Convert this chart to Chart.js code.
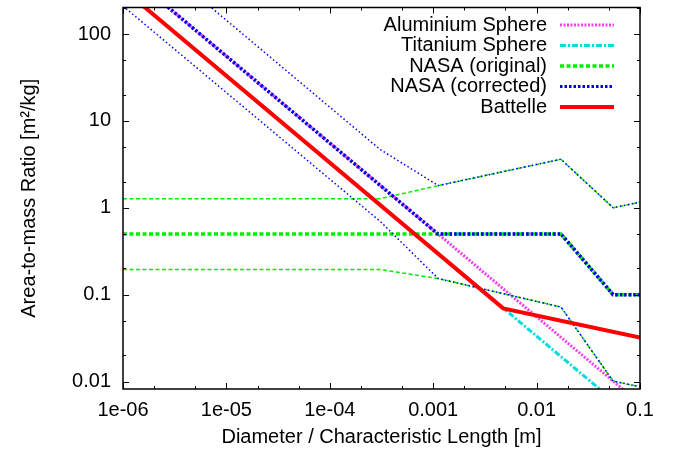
<!DOCTYPE html>
<html>
<head>
<meta charset="utf-8">
<script src="https://cdn.jsdelivr.net/npm/chart.js@4/dist/chart.umd.min.js"></script>
<style>
  body { margin: 0; background: #fff; }
  canvas { display: block; }
</style>
</head>
<body>
<canvas id="chart" width="675" height="454"></canvas>
<script>
// diameter [m] and area-to-mass ratio [m^2/kg]
const sphereD = [1e-6, 0.1];
const aluminiumAM = [556, 0.00556];
const titaniumAM = [333, 0.00333];

const nasaD = [1e-6, 3.06e-4, 0.00112, 0.0172, 0.055, 0.1];
const nasaOrigUpper = [1.27, 1.27, 1.8, 3.62, 1.0, 1.16];
const nasaOrigMean = [0.5, 0.5, 0.5, 0.5, 0.1, 0.1];
const nasaOrigLower = [0.195, 0.195, 0.153, 0.072, 0.0101, 0.0087];

const nasaCorrUpper = [1440, 4.7, 1.8, 3.62, 1.0, 1.16];
const nasaCorrLower = [210, 0.70, 0.153, 0.072, 0.0101, 0.0087];
const nasaCorrMeanD = [1e-6, 0.00111, 0.0172, 0.055, 0.1];
const nasaCorrMean = [556, 0.5, 0.5, 0.1, 0.1];

const battelleD = [1e-6, 0.00475, 0.1];
const battelleAM = [330, 0.0695, 0.032];

const xTicks = [1e-6, 1e-5, 1e-4, 1e-3, 1e-2, 1e-1];
const xTickLabels = ["1e-06", "1e-05", "1e-04", "0.001", "0.01", "0.1"];
const yTicks = [0.01, 0.1, 1, 10, 100];
const yTickLabels = ["0.01", "0.1", "1", "10", "100"];

const legendLabels = ["Aluminium Sphere", "Titanium Sphere", "NASA (original)", "NASA (corrected)", "Battelle"];

const FONT = { family: "'Liberation Sans', Arial, sans-serif", size: 20 };

const MAGENTA = "#ee44ee", CYAN = "#00dddd", GREEN = "#00ee00", BLUE = "#0000ee", RED = "#ff0000";

function pts(xs, ys) {
  return xs.map((x, i) => ({ x: x, y: ys[i] }));
}

function line(data, color, width, dash, order) {
  return {
    data: data,
    borderColor: color,
    borderWidth: width,
    borderDash: dash,
    pointRadius: 0,
    tension: 0,
    fill: false,
    clip: 0,
    order: order
  };
}

const datasets = [
  line(pts(sphereD, aluminiumAM), MAGENTA, 3, [2, 1.5], 10),
  line(pts(sphereD, titaniumAM), CYAN, 3, [6, 2, 2, 2], 9),
  line(pts(nasaD, nasaOrigUpper), GREEN, 1.5, [4, 2.5], 8),
  line(pts(nasaD, nasaOrigMean), GREEN, 3.5, [4, 2.5], 8),
  line(pts(nasaD, nasaOrigLower), GREEN, 1.5, [4, 2.5], 8),
  line(pts(nasaD, nasaCorrUpper), BLUE, 1.5, [1.5, 2.5], 7),
  line(pts(nasaCorrMeanD, nasaCorrMean), BLUE, 3.5, [2.5, 2], 7),
  line(pts(nasaD, nasaCorrLower), BLUE, 1.5, [1.5, 2.5], 7),
  line(pts(battelleD, battelleAM), RED, 4, [], 6)
];

// styles of the legend samples, one per legend label
const legendStyles = [
  { color: MAGENTA, width: 3, dash: [2, 1.5] },
  { color: CYAN, width: 3, dash: [6, 2, 2, 2] },
  { color: GREEN, width: 3.5, dash: [4, 2.5] },
  { color: BLUE, width: 3, dash: [2.5, 2] },
  { color: RED, width: 4, dash: [] }
];

// gnuplot style frame: border box with inward ticks on all sides
const framePlugin = {
  id: "frame",
  afterDatasetsDraw(chart) {
    const { ctx, chartArea: a, scales } = chart;
    ctx.save();
    ctx.strokeStyle = "#000";
    ctx.lineWidth = 1;
    ctx.setLineDash([]);
    const mults = [1, 2, 5];
    for (let k = -7; k <= 0; k++) {
      mults.forEach(m => {
        const v = m * Math.pow(10, k);
        if (v < scales.x.min - 1e-12 || v > scales.x.max * 1.0001) return;
        const px = Math.round(scales.x.getPixelForValue(v)) + 0.5;
        const len = m === 1 ? 6 : 3;
        ctx.beginPath();
        ctx.moveTo(px, a.bottom); ctx.lineTo(px, a.bottom - len);
        ctx.moveTo(px, a.top); ctx.lineTo(px, a.top + len);
        ctx.stroke();
      });
    }
    for (let k = -3; k <= 2; k++) {
      mults.forEach(m => {
        const v = m * Math.pow(10, k);
        if (v < scales.y.min || v > scales.y.max) return;
        const py = Math.round(scales.y.getPixelForValue(v)) + 0.5;
        const len = m === 1 ? 6 : 3;
        ctx.beginPath();
        ctx.moveTo(a.left, py); ctx.lineTo(a.left + len, py);
        ctx.moveTo(a.right, py); ctx.lineTo(a.right - len, py);
        ctx.stroke();
      });
    }
    ctx.lineWidth = 1.5;
    ctx.strokeRect(a.left, a.top, a.right - a.left, a.bottom - a.top);
    ctx.restore();
  }
};

// legend in the top right: text right aligned, line sample after it
const legendPlugin = {
  id: "keybox",
  afterDraw(chart) {
    const ctx = chart.ctx;
    ctx.save();
    ctx.font = FONT.size + "px " + FONT.family;
    ctx.textAlign = "right";
    ctx.textBaseline = "middle";
    ctx.fillStyle = "#000";
    legendLabels.forEach((label, i) => {
      const y = 25 + i * 20.5;
      ctx.fillText(label, 547, y);
      const s = legendStyles[i];
      ctx.strokeStyle = s.color;
      ctx.lineWidth = s.width;
      ctx.setLineDash(s.dash);
      ctx.beginPath();
      ctx.moveTo(560, y);
      ctx.lineTo(614, y);
      ctx.stroke();
    });
    ctx.restore();
  }
};

new Chart(document.getElementById("chart"), {
  type: "line",
  data: { datasets: datasets },
  options: {
    responsive: false,
    animation: false,
    layout: { padding: { left: 0, right: 35, top: 7.5, bottom: 0 } },
    plugins: { legend: { display: false }, tooltip: { enabled: false } },
    scales: {
      x: {
        type: "logarithmic",
        min: 1e-6,
        max: 0.1,
        grid: { display: false, drawTicks: false },
        border: { display: false },
        afterBuildTicks: s => { s.ticks = xTicks.map(v => ({ value: v })); },
        afterFit: s => { s.height = 65; s.paddingLeft = 0; s.paddingRight = 0; },
        ticks: {
          autoSkip: false,
          maxRotation: 0,
          padding: 9,
          color: "#000",
          font: FONT,
          callback: (v, i) => xTickLabels[i]
        },
        title: {
          display: true,
          text: "Diameter / Characteristic Length [m]",
          color: "#000",
          font: FONT,
          padding: { top: 0, bottom: 5 }
        }
      },
      y: {
        type: "logarithmic",
        min: 0.0082,
        max: 202,
        grid: { display: false, drawTicks: false },
        border: { display: false },
        afterBuildTicks: s => { s.ticks = yTicks.map(v => ({ value: v })); },
        afterFit: s => { s.width = 123; s.paddingTop = 0; s.paddingBottom = 0; },
        ticks: {
          autoSkip: false,
          padding: 12,
          color: "#000",
          font: FONT,
          callback: (v, i) => yTickLabels[i]
        },
        title: {
          display: true,
          text: "Area-to-mass Ratio [m²/kg]",
          color: "#000",
          font: FONT,
          padding: { top: 17, bottom: 0 }
        }
      }
    }
  },
  plugins: [framePlugin, legendPlugin]
});
</script>
</body>
</html>
